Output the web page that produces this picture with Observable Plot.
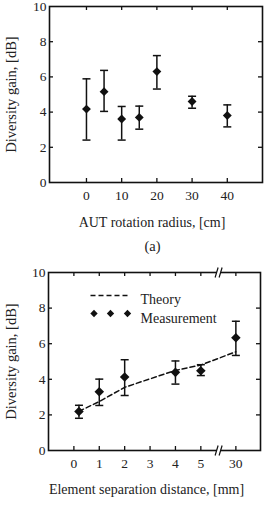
<!DOCTYPE html>
<html>
<head>
<meta charset="utf-8">
<script src="https://cdn.jsdelivr.net/npm/d3@7"></script>
<script src="https://cdn.jsdelivr.net/npm/@observablehq/plot@0.6"></script>
<style>
  html, body { margin: 0; padding: 0; background: #fff; }
  #wrap { position: relative; width: 265px; height: 506px; font-family: "Liberation Serif", serif; color: #222; }
  .panel { position: absolute; left: 0; }
  #caption-a { position: absolute; top: 238px; left: 0; width: 305px; text-align: center; font-size: 14.5px; }
  #wrap svg g[aria-label="y-axis label"] text { font-size: 14.5px; }
  #top svg g[aria-label="x-axis label"] text { font-size: 14px; }
  #bottom svg g[aria-label="x-axis label"] text { font-size: 14px; }
</style>
</head>
<body>
<div id="wrap">
  <div id="top" class="panel" style="top:0px"></div>
  <div id="caption-a">(a)</div>
  <div id="bottom" class="panel" style="top:262px"></div>
</div>
<script>
// ---- Data: panel (a) ----
const radiusCm = [0, 5, 10, 15, 20, 30, 40];
const gainA    = [4.17, 5.16, 3.61, 3.70, 6.30, 4.60, 3.81];
const gainALo  = [2.41, 4.04, 2.41, 3.03, 5.31, 4.22, 3.16];
const gainAHi  = [5.89, 6.37, 4.32, 4.34, 7.21, 4.90, 4.41];
const radiusTicks = [0, 10, 20, 30, 40];
const gainTicks = [0, 2, 4, 6, 8, 10];

// ---- Data: panel (b) ----
const sepMm    = [0.2, 1, 2, 4, 5, 30];
const measured = [2.19, 3.30, 4.13, 4.39, 4.48, 6.34];
const measLo   = [1.81, 2.53, 3.09, 3.73, 4.21, 5.34];
const measHi   = [2.54, 4.01, 5.10, 5.03, 4.82, 7.26];
const theory   = [2.20, 2.75, 3.55, 4.50, 4.80, 5.55];
const sepTicks = [0, 1, 2, 3, 4, 5, 30];

// broken axis: values beyond 5 mm are drawn after the break
const breakPos = 5.7, farPos = 6.38;
const sepPos = d => d <= 5 ? d : farPos;

const tableA = radiusCm.map((x, i) => ({x, y: gainA[i], lo: gainALo[i], hi: gainAHi[i]}));
const tableB = sepMm.map((d, i) => ({x: sepPos(d), y: measured[i], lo: measLo[i], hi: measHi[i], th: theory[i]}));

// custom symbols
const hline = (hw) => ({draw(ctx) { ctx.moveTo(-hw, 0); ctx.lineTo(hw, 0); }});
const slashes = {draw(ctx) {
  ctx.moveTo(-3.5, 5); ctx.lineTo(-0.5, -5);
  ctx.moveTo(0.5, 5); ctx.lineTo(3.5, -5);
}};
const eraser = {draw(ctx) { ctx.rect(-1.8, -3, 3.6, 6); }};

const font = {fontFamily: "Liberation Serif, serif", fontSize: "13.5px", color: "#222", background: "white", overflow: "visible"};
const INK = "#111";
const TXT = "#222";
const TICK = 4;

function frameTicks(xTicks, yTicks, yDomain, fw, fh) {
  const inner = yTicks.filter(v => v > yDomain[0] && v < yDomain[1]);
  return [
    Plot.ruleX(xTicks, {x: d => d, insetTop: fh - TICK, stroke: INK, strokeWidth: 1.3}),
    Plot.ruleX(xTicks, {x: d => d, insetBottom: fh - TICK, stroke: INK, strokeWidth: 1.3}),
    Plot.ruleY(inner, {y: d => d, insetRight: fw - TICK, stroke: INK, strokeWidth: 1.3}),
    Plot.ruleY(inner, {y: d => d, insetLeft: fw - TICK, stroke: INK, strokeWidth: 1.3})
  ];
}
function nudgeXLabel(svg, dx) {
  d3.select(svg).selectAll('g[aria-label="x-axis label"] text').attr("dx", dx);
}

// ---- Panel (a) ----
{
  const W = 265, H = 230, mL = 49, mR = 3, mT = 6, mB = 48;
  const fw = W - mL - mR, fh = H - mT - mB;
  const plotA = Plot.plot({
    width: W, height: H,
    marginLeft: mL, marginRight: mR, marginTop: mT, marginBottom: mB,
    style: font,
    x: {domain: [-10.5, 50], ticks: radiusTicks, tickSize: 0, tickPadding: 8,
        label: "AUT rotation radius, [cm]", labelArrow: false, labelAnchor: "center", labelOffset: 44},
    y: {domain: [0, 10], ticks: gainTicks, tickSize: 0, tickPadding: 3,
        label: "Diversity gain, [dB]", labelArrow: false, labelAnchor: "center", labelOffset: 44},
    marks: [
      ...frameTicks(radiusTicks, gainTicks, [0, 10], fw, fh),
      Plot.ruleX(tableA, {x: "x", y1: "lo", y2: "hi", stroke: INK, strokeWidth: 1.5}),
      Plot.dot(tableA, {x: "x", y: "lo", symbol: hline(4), stroke: INK, strokeWidth: 1.5, fill: "none"}),
      Plot.dot(tableA, {x: "x", y: "hi", symbol: hline(4), stroke: INK, strokeWidth: 1.5, fill: "none"}),
      Plot.dot(tableA, {x: "x", y: "y", symbol: "diamond2", r: 4, fill: INK, stroke: "none"}),
      Plot.frame({stroke: INK, strokeWidth: 1.6})
    ]
  });
  nudgeXLabel(plotA, -4);
  document.getElementById("top").append(plotA);
}

// ---- Panel (b) ----
{
  const W = 265, H = 238, mL = 48, mR = 5, mT = 10, mB = 50;
  const fw = W - mL - mR, fh = H - mT - mB;
  const tickPositions = sepTicks.map(sepPos);
  const labelAt = new Map(sepTicks.map(d => [sepPos(d), String(d)]));
  const legendDiamonds = [45.5, 62, 79].map(dx =>
    Plot.dot([0], {frameAnchor: "top-left", dx, dy: 41, symbol: "diamond2", r: 3.3, fill: INK, stroke: "none"}));
  const plotB = Plot.plot({
    width: W, height: H,
    marginLeft: mL, marginRight: mR, marginTop: mT, marginBottom: mB,
    style: font,
    x: {domain: [-1, 7.35], ticks: tickPositions, tickFormat: d => labelAt.get(d), tickSize: 0, tickPadding: 8,
        label: "Element separation distance, [mm]", labelArrow: false, labelAnchor: "center", labelOffset: 43},
    y: {domain: [0, 10], ticks: gainTicks, tickSize: 0, tickPadding: 3,
        label: "Diversity gain, [dB]", labelArrow: false, labelAnchor: "center", labelOffset: 43},
    marks: [
      ...frameTicks(tickPositions, gainTicks, [0, 10], fw, fh),
      Plot.line(tableB, {x: "x", y: "th", stroke: INK, strokeWidth: 1.5, strokeDasharray: "5,3"}),
      Plot.ruleX(tableB, {x: "x", y1: "lo", y2: "hi", stroke: INK, strokeWidth: 1.5}),
      Plot.dot(tableB, {x: "x", y: "lo", symbol: hline(4), stroke: INK, strokeWidth: 1.5, fill: "none"}),
      Plot.dot(tableB, {x: "x", y: "hi", symbol: hline(4), stroke: INK, strokeWidth: 1.5, fill: "none"}),
      Plot.dot(tableB, {x: "x", y: "y", symbol: "diamond2", r: 4.3, fill: INK, stroke: "none"}),
      // legend
      Plot.dot([0], {frameAnchor: "top-left", dx: 61, dy: 23, symbol: hline(19), stroke: INK, strokeWidth: 1.5, strokeDasharray: "5,3", fill: "none"}),
      ...legendDiamonds,
      Plot.text(["Theory"], {text: d => d, frameAnchor: "top-left", dx: 92, dy: 22, textAnchor: "start", fontSize: 14, fill: TXT}),
      Plot.text(["Measurement"], {text: d => d, frameAnchor: "top-left", dx: 92, dy: 41, textAnchor: "start", fontSize: 14, fill: TXT}),
      Plot.frame({stroke: INK, strokeWidth: 1.6}),
      // axis break marks
      Plot.dot([0, 10], {x: () => breakPos, y: d => d, symbol: eraser, r: 1, fill: "white", stroke: "none"}),
      Plot.dot([0, 10], {x: () => breakPos, y: d => d, symbol: slashes, r: 1, fill: "none", stroke: INK, strokeWidth: 1.2})
    ]
  });
  nudgeXLabel(plotB, -8);
  document.getElementById("bottom").append(plotB);
}
</script>
</body>
</html>
